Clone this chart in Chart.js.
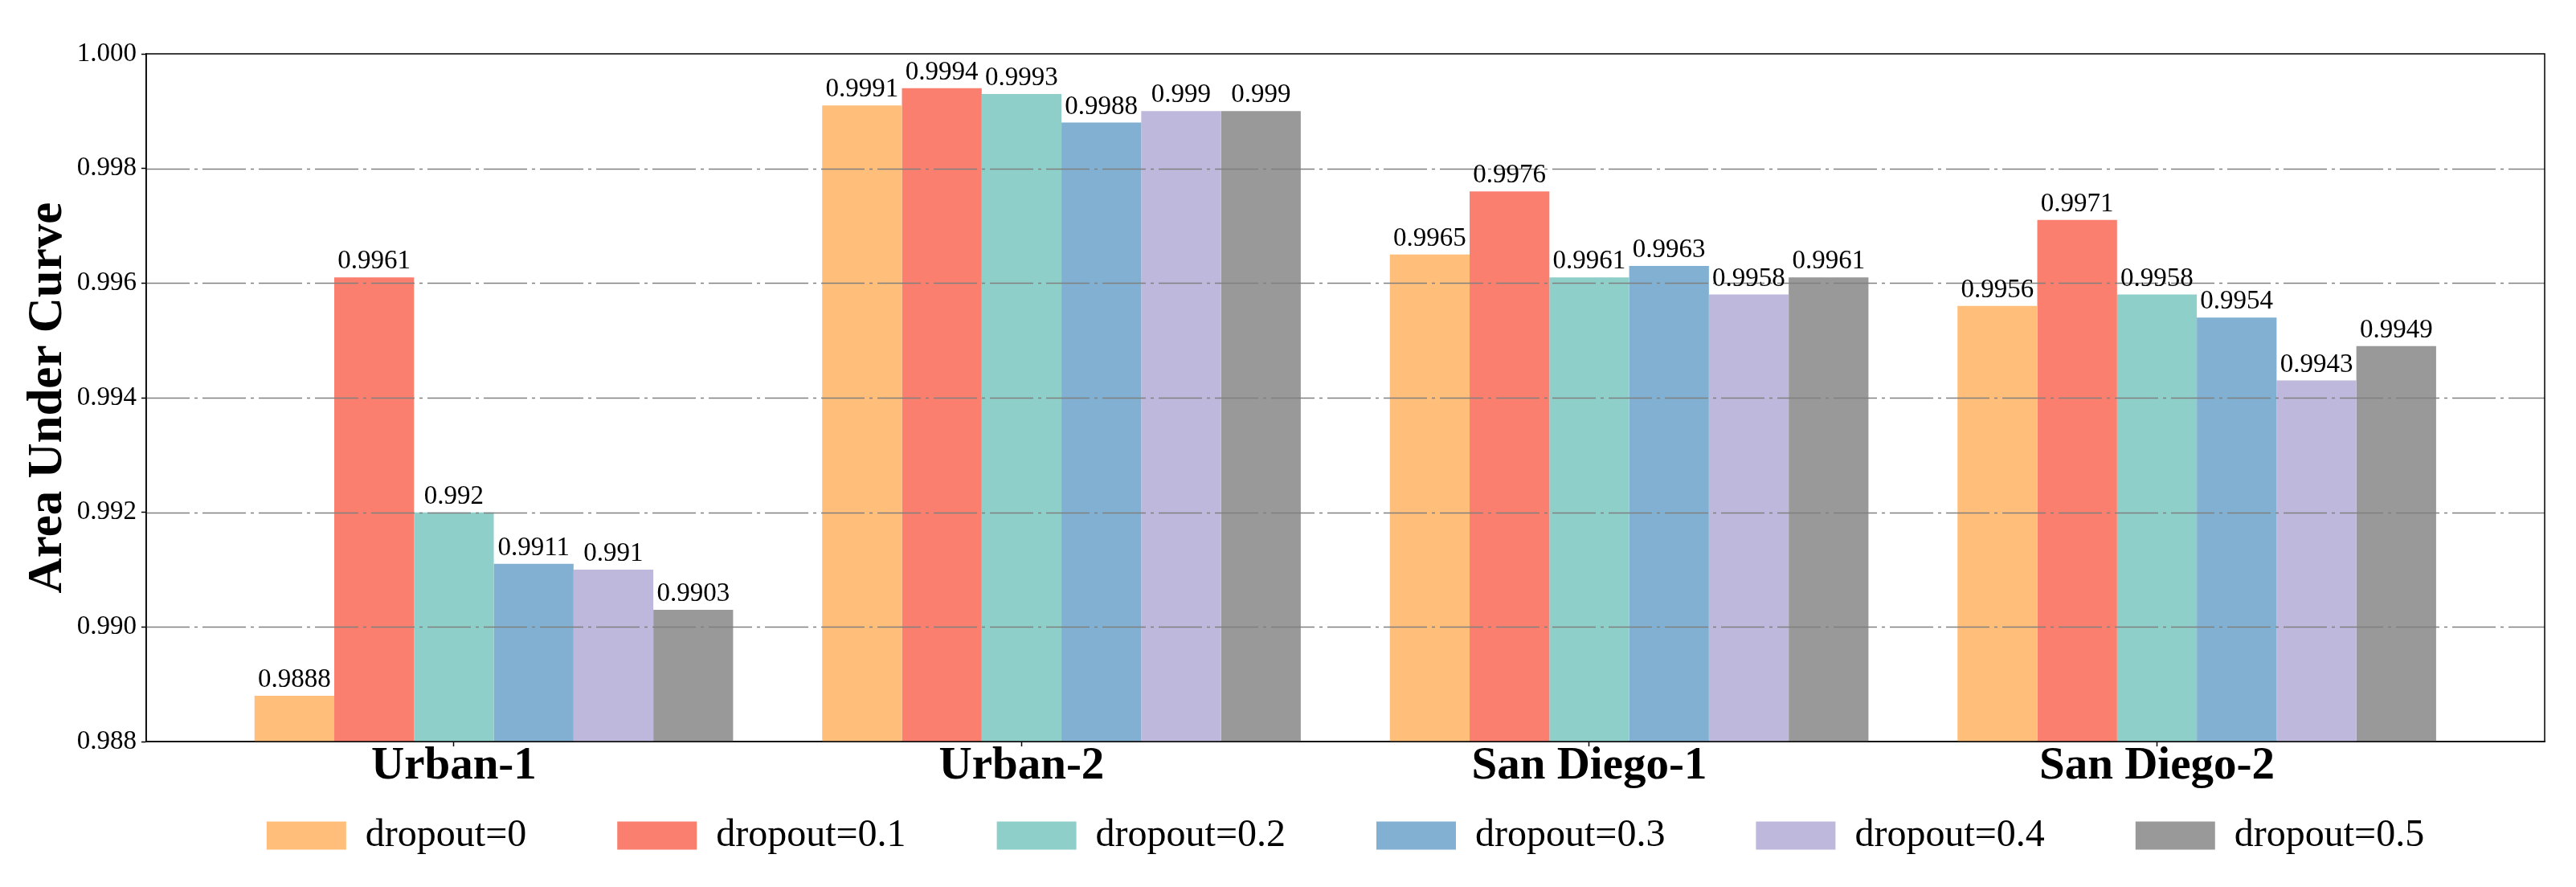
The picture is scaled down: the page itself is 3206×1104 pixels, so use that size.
<!DOCTYPE html>
<html><head><meta charset="utf-8">
<script src="https://cdn.jsdelivr.net/npm/chart.js@4.4.1/dist/chart.umd.min.js"></script>
<style>html,body{margin:0;padding:0;background:#fff;} canvas{display:block;}</style>
</head><body>
<canvas id="c" width="3206" height="1104"></canvas>
<script>
const categories = ['Urban-1', 'Urban-2', 'San Diego-1', 'San Diego-2'];
const seriesNames = ['dropout=0', 'dropout=0.1', 'dropout=0.2', 'dropout=0.3', 'dropout=0.4', 'dropout=0.5'];
const dropout0  = [0.9888, 0.9991, 0.9965, 0.9956];
const dropout01 = [0.9961, 0.9994, 0.9976, 0.9971];
const dropout02 = [0.992,  0.9993, 0.9961, 0.9958];
const dropout03 = [0.9911, 0.9988, 0.9963, 0.9954];
const dropout04 = [0.991,  0.999,  0.9958, 0.9943];
const dropout05 = [0.9903, 0.999,  0.9961, 0.9949];
const yTicks = [0.988, 0.990, 0.992, 0.994, 0.996, 0.998, 1.000];
const colors = ['#FFBE7A', '#FA7F6F', '#8ECFC9', '#82B0D2', '#BEB8DC', '#999999'];

const FONT = '"Liberation Serif", "Times New Roman", serif';
const allSeries = [dropout0, dropout01, dropout02, dropout03, dropout04, dropout05];

const datasets = [{
  label: '', isPad: true,
  data: categories.map((c, i) => ({x: i, y: null})),
  backgroundColor: 'rgba(0,0,0,0)', borderWidth: 0
}].concat(allSeries.map((vals, k) => ({
  label: seriesNames[k],
  data: vals.map((v, i) => ({x: i, y: v})),
  backgroundColor: colors[k],
  borderColor: colors[k],
  borderWidth: 0
})));

const overlay = {
  id: 'overlay',
  afterLayout(chart) {
    const lg = chart.legend;
    if (lg) { const h = lg.height; lg.top -= 20; lg.bottom = lg.top + h; }
  },
  beforeDraw(chart) {
    const ctx = chart.ctx;
    ctx.save(); ctx.fillStyle = '#fff'; ctx.fillRect(0, 0, chart.width, chart.height); ctx.restore();
  },
  afterDatasetsDraw(chart) {
    const {ctx, chartArea: a} = chart;
    const y = chart.scales.y;
    ctx.save();
    ctx.strokeStyle = '#808080';
    ctx.lineWidth = 1.5;
    ctx.setLineDash([54, 6, 4, 6]);
    yTicks.slice(1, -1).forEach(v => {
      const py = Math.round(y.getPixelForValue(v)) + 0.5;
      ctx.beginPath(); ctx.moveTo(a.left, py); ctx.lineTo(a.right, py); ctx.stroke();
    });
    ctx.setLineDash([]);
    ctx.fillStyle = '#000';
    ctx.font = '33px ' + FONT;
    ctx.textAlign = 'center';
    ctx.textBaseline = 'alphabetic';
    chart.data.datasets.forEach((ds, di) => {
      if (ds.isPad) return;
      chart.getDatasetMeta(di).data.forEach((bar, j) => {
        ctx.fillText(String(ds.data[j].y), bar.x, bar.y - 11);
      });
    });
    ctx.strokeStyle = '#000';
    ctx.lineWidth = 1.5;
    ctx.strokeRect(a.left, a.top, a.right - a.left, a.bottom - a.top);
    ctx.restore();
  }
};

new Chart(document.getElementById('c'), {
  type: 'bar',
  data: {datasets},
  plugins: [overlay],
  options: {
    responsive: false,
    devicePixelRatio: 1,
    animation: false,
    events: [],
    categoryPercentage: 0.9836,
    barPercentage: 1.0,
    layout: {padding: {top: 67, right: 39, left: 0, bottom: 10}},
    plugins: {
      tooltip: {enabled: false},
      title: {display: false},
      legend: {
        position: 'bottom',
        fullSize: false,
        labels: {
          boxWidth: 99, boxHeight: 35, padding: 113, color: '#000',
          font: {family: FONT, size: 48},
          filter: item => item.text !== ''
        }
      }
    },
    scales: {
      x: {
        type: 'linear',
        position: 'bottom',
        offset: false,
        bounds: 'data',
        min: -0.542,
        max: 3.683,
        afterBuildTicks: s => { s.ticks = categories.map((c, i) => ({value: i})); },
        afterFit: s => { s.height = 0; },
        ticks: {
          autoSkip: false, maxRotation: 0, minRotation: 0,
          mirror: true,
          padding: -59.5, color: '#000',
          font: {family: FONT, size: 57, weight: 'bold', lineHeight: 1},
          callback: v => categories[Math.round(v)]
        },
        grid: {offset: false, drawOnChartArea: false, drawTicks: true, tickLength: 6, tickColor: '#000', tickWidth: 1.5},
        border: {display: true, color: '#000', width: 1.5}
      },
      y: {
        position: 'left',
        min: 0.988,
        max: 1.0,
        afterBuildTicks: s => { s.ticks = yTicks.map(v => ({value: v})); },
        afterFit: s => { s.width = 182; },
        ticks: {
          padding: 6, color: '#000',
          font: {family: FONT, size: 33, lineHeight: 1},
          callback: v => Number(v).toFixed(3)
        },
        grid: {drawOnChartArea: false, drawTicks: true, tickLength: 6, tickColor: '#000', tickWidth: 1.5},
        border: {display: true, color: '#000', width: 1.5},
        title: {
          display: true, text: 'Area Under Curve', color: '#000',
          font: {family: FONT, size: 61, weight: 'bold', lineHeight: 1},
          padding: {top: 30, bottom: 0}
        }
      }
    }
  }
});
</script>
</body></html>
